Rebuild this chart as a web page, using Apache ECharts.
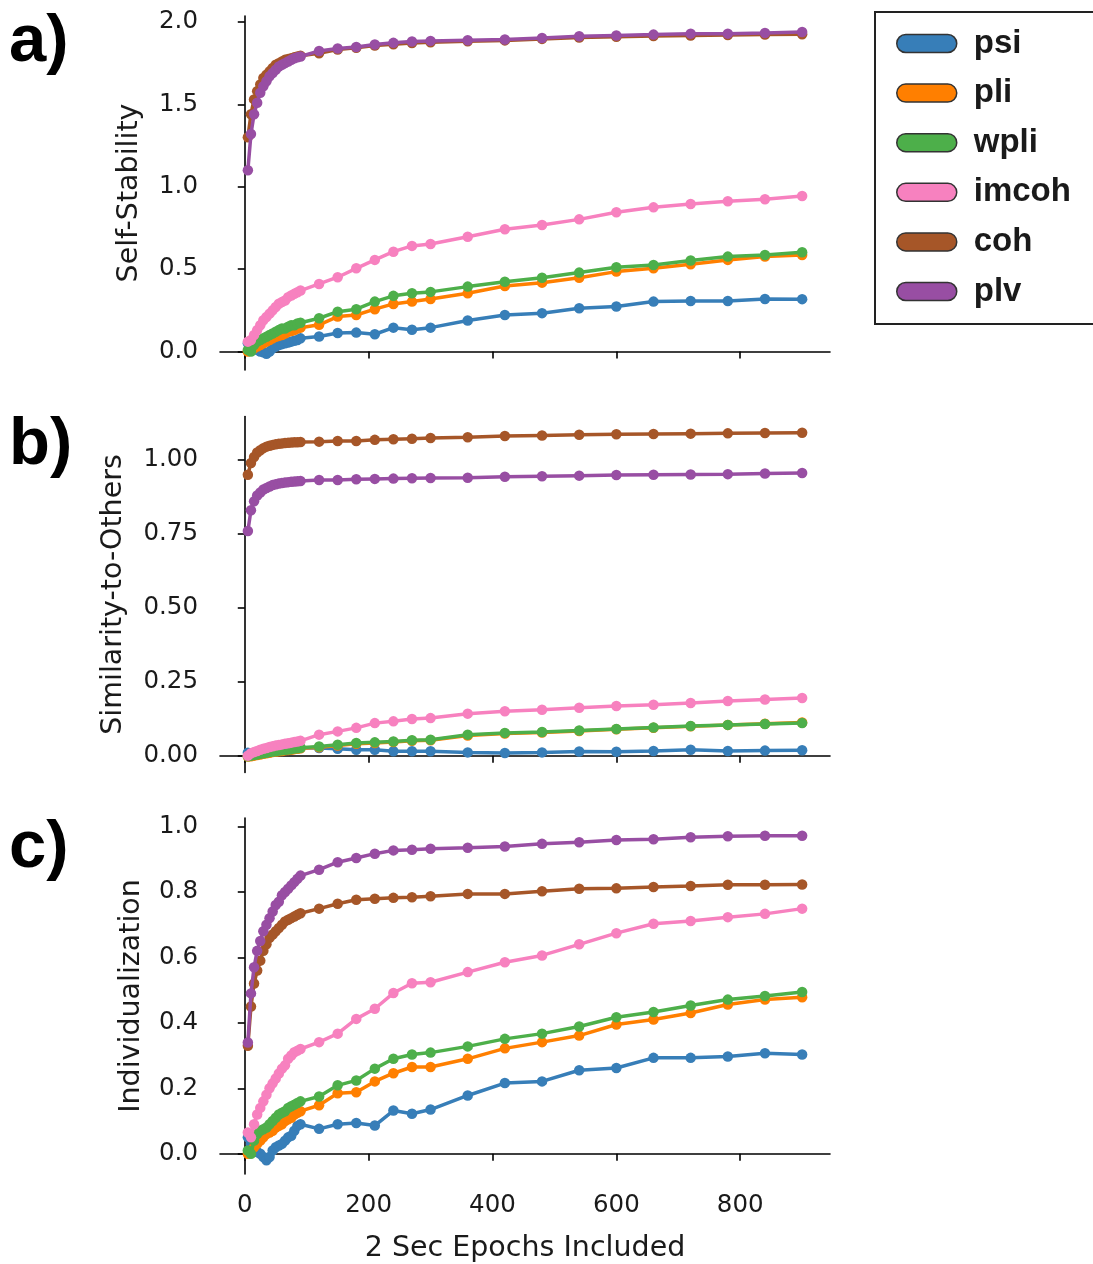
<!DOCTYPE html>
<html>
<head>
<meta charset="utf-8">
<script src="https://cdn.jsdelivr.net/npm/echarts@6/dist/echarts.min.js"></script>
<style>
html,body{margin:0;padding:0;background:#fff;}
#chart{width:1093px;height:1264px;}
</style>
</head>
<body>
<div id="chart"></div>
<script>
// ---------- DATA ----------
const epochs = [5,10,15,20,25,30,35,40,45,50,55,60,65,70,75,80,85,90,
  120,150,180,210,240,270,300,360,420,480,540,600,660,720,780,840,900];

const measures = ['psi','pli','wpli','imcoh','coh','plv'];
const colors = ['#377eb8','#ff7f00','#4daf4a','#f781bf','#a65628','#984ea3'];

// a) Self-Stability
const psiA = [0.05,0.03,0.02,0.01,0.00,-0.005,-0.014,0.00,0.02,0.03,0.04,0.045,0.05,0.055,0.06,0.065,0.07,0.08,
  0.091,0.112,0.115,0.105,0.145,0.132,0.145,0.188,0.222,0.233,0.263,0.273,0.303,0.307,0.307,0.319,0.318];
const pliA = [0.00,0.01,0.02,0.03,0.04,0.05,0.06,0.07,0.08,0.09,0.095,0.10,0.11,0.12,0.125,0.13,0.14,0.145,
  0.162,0.212,0.222,0.257,0.289,0.303,0.319,0.354,0.398,0.418,0.448,0.485,0.505,0.530,0.556,0.576,0.586];
const wpliA = [0.01,0.00,0.04,0.06,0.07,0.08,0.09,0.10,0.11,0.12,0.13,0.14,0.14,0.15,0.16,0.16,0.17,0.175,
  0.202,0.242,0.257,0.303,0.338,0.354,0.362,0.394,0.424,0.448,0.479,0.511,0.525,0.552,0.576,0.586,0.602];
const imcohA = [0.06,0.07,0.10,0.13,0.16,0.19,0.21,0.23,0.25,0.27,0.29,0.30,0.31,0.33,0.34,0.35,0.36,0.37,
  0.410,0.451,0.505,0.556,0.606,0.641,0.653,0.697,0.742,0.768,0.802,0.845,0.875,0.895,0.912,0.924,0.944];
const cohA = [1.30,1.44,1.53,1.58,1.62,1.66,1.68,1.70,1.72,1.74,1.75,1.76,1.77,1.775,1.78,1.785,1.79,1.795,
  1.810,1.832,1.843,1.857,1.864,1.872,1.877,1.883,1.888,1.897,1.905,1.910,1.915,1.918,1.921,1.924,1.925];
const plvA = [1.10,1.32,1.44,1.51,1.57,1.61,1.64,1.67,1.69,1.71,1.73,1.74,1.75,1.76,1.77,1.78,1.785,1.79,
  1.824,1.839,1.848,1.863,1.873,1.881,1.885,1.889,1.893,1.903,1.913,1.918,1.923,1.929,1.929,1.933,1.939];

// b) Similarity-to-Others
const psiB = [0.01,0.006,0.005,0.007,0.009,0.011,0.013,0.015,0.017,0.018,0.019,0.020,0.021,0.022,0.023,0.024,0.025,0.026,
  0.026,0.023,0.020,0.020,0.015,0.015,0.015,0.011,0.009,0.011,0.014,0.013,0.016,0.020,0.016,0.017,0.018];
const pliB = [-0.003,-0.002,0.0,0.002,0.004,0.006,0.008,0.010,0.012,0.013,0.015,0.016,0.018,0.019,0.020,0.022,0.023,0.025,
  0.028,0.034,0.040,0.043,0.046,0.050,0.052,0.068,0.075,0.078,0.083,0.089,0.094,0.099,0.104,0.108,0.112];
const wpliB = [-0.002,0.0,0.002,0.004,0.006,0.008,0.010,0.012,0.014,0.015,0.017,0.018,0.020,0.021,0.022,0.024,0.025,0.027,
  0.031,0.037,0.043,0.045,0.048,0.052,0.054,0.071,0.077,0.080,0.085,0.090,0.095,0.100,0.104,0.107,0.110];
const imcohB = [0.0,0.008,0.012,0.016,0.020,0.023,0.026,0.029,0.032,0.034,0.036,0.038,0.040,0.042,0.044,0.046,0.048,0.050,
  0.071,0.082,0.094,0.110,0.116,0.124,0.127,0.142,0.150,0.155,0.162,0.168,0.172,0.178,0.185,0.190,0.195];
const cohB = [0.95,0.99,1.01,1.025,1.033,1.040,1.045,1.048,1.051,1.053,1.055,1.056,1.057,1.058,1.059,1.060,1.060,1.061,
  1.062,1.064,1.064,1.068,1.070,1.072,1.074,1.077,1.081,1.083,1.085,1.087,1.088,1.089,1.090,1.091,1.092];
const plvB = [0.76,0.83,0.86,0.88,0.89,0.90,0.905,0.91,0.915,0.918,0.92,0.922,0.924,0.925,0.926,0.927,0.928,0.929,
  0.932,0.932,0.935,0.936,0.937,0.938,0.939,0.940,0.943,0.945,0.947,0.949,0.950,0.951,0.952,0.954,0.956];

// c) Individualization
const psiC = [0.05,0.03,0.015,0.005,0.0,-0.01,-0.02,-0.01,0.01,0.02,0.025,0.03,0.04,0.05,0.055,0.07,0.085,0.09,
  0.076,0.090,0.094,0.086,0.132,0.122,0.135,0.178,0.216,0.221,0.255,0.262,0.293,0.293,0.297,0.307,0.303];
const pliC = [0.0,0.01,0.02,0.03,0.04,0.05,0.06,0.065,0.07,0.08,0.085,0.09,0.10,0.105,0.11,0.12,0.125,0.13,
  0.148,0.185,0.188,0.221,0.246,0.265,0.265,0.290,0.322,0.341,0.361,0.395,0.410,0.430,0.456,0.471,0.478];
const wpliC = [0.01,0.0,0.04,0.06,0.07,0.075,0.08,0.09,0.10,0.11,0.12,0.125,0.13,0.14,0.145,0.15,0.155,0.16,
  0.175,0.209,0.224,0.260,0.290,0.303,0.309,0.328,0.351,0.367,0.389,0.417,0.433,0.453,0.471,0.482,0.494];
const imcohC = [0.065,0.05,0.09,0.12,0.14,0.16,0.18,0.20,0.215,0.23,0.245,0.26,0.27,0.29,0.30,0.31,0.315,0.32,
  0.341,0.367,0.412,0.443,0.491,0.521,0.524,0.555,0.585,0.606,0.640,0.674,0.703,0.711,0.723,0.733,0.749];
const cohC = [0.33,0.45,0.52,0.56,0.59,0.62,0.64,0.66,0.67,0.68,0.69,0.70,0.71,0.715,0.72,0.725,0.73,0.735,
  0.749,0.764,0.776,0.779,0.782,0.784,0.787,0.794,0.794,0.802,0.810,0.811,0.815,0.818,0.822,0.822,0.823];
const plvC = [0.34,0.49,0.57,0.62,0.65,0.68,0.70,0.72,0.74,0.76,0.77,0.79,0.80,0.81,0.82,0.83,0.84,0.85,
  0.868,0.891,0.904,0.917,0.927,0.929,0.932,0.935,0.939,0.947,0.952,0.959,0.961,0.967,0.970,0.972,0.972];

const xTicks = [0,200,400,600,800];
const yTicksA = [0,0.5,1.0,1.5,2.0];
const yTicksB = [0,0.25,0.5,0.75,1.0];
const yTicksC = [0,0.2,0.4,0.6,0.8,1.0];
const panelTitles = ['Self-Stability','Similarity-to-Others','Individualization'];
const panelLetters = ['a)','b)','c)'];
const xTitle = '2 Sec Epochs Included';

// ---------- CHART ----------
const panels = [
  [psiA,pliA,wpliA,imcohA,cohA,plvA],
  [psiB,pliB,wpliB,imcohB,cohB,plvB],
  [psiC,pliC,wpliC,imcohC,cohC,plvC]
];
const yTickSets = [yTicksA,yTicksB,yTicksC];
const yDecimals = [1,2,1];
const yRanges = [[-0.112,2.036],[-0.057,1.147],[-0.062,1.026]];
const gridTops = [16,416.5,818];
const gridH = [354,356,356];
const nameGaps = [76,92,74];

const FONT = 'DejaVu Sans';
const axisLine = {show:true, lineStyle:{color:'#000', width:1.6}};
const axisTickBase = {show:true, inside:false, length:7, lineStyle:{color:'#000', width:1.6}};

const grids = [], xAxes = [], yAxes = [], series = [];
for (let p = 0; p < 3; p++) {
  grids.push({left:220, width:610, top:gridTops[p], height:gridH[p], containLabel:false});
  xAxes.push({
    type:'value', gridIndex:p, min:-40, max:945,
    axisLine:axisLine,
    axisTick:Object.assign({}, axisTickBase, {customValues:xTicks}),
    axisLabel:{show:p===2, customValues:xTicks, fontFamily:FONT, fontSize:24.5, color:'#1a1a1a', margin:19},
    splitLine:{show:false},
    name: p===2 ? xTitle : '', nameLocation:'middle', nameGap:60,
    nameTextStyle:{fontFamily:FONT, fontSize:28.5, color:'#1a1a1a'}
  });
  const dec = yDecimals[p];
  yAxes.push({
    type:'value', gridIndex:p, min:yRanges[p][0], max:yRanges[p][1],
    axisLine:axisLine,
    axisTick:Object.assign({}, axisTickBase, {customValues:yTickSets[p]}),
    axisLabel:{customValues:yTickSets[p], fontFamily:FONT, fontSize:24.5, color:'#1a1a1a', margin:22,
      formatter:(v)=>Number(v).toFixed(dec)},
    splitLine:{show:false},
    name:panelTitles[p], nameLocation:'middle', nameGap:nameGaps[p], nameRotate:90,
    nameTextStyle:{fontFamily:FONT, fontSize:28.5, color:'#1a1a1a'}
  });
  for (let m = 0; m < measures.length; m++) {
    const vals = panels[p][m];
    series.push({
      name:measures[m], type:'line', xAxisIndex:p, yAxisIndex:p,
      data:epochs.map((x,k)=>[x, vals[k]]),
      symbol:'circle', symbolSize:10.5, showSymbol:true,
      color:colors[m],
      lineStyle:{width:3.5, color:colors[m]},
      itemStyle:{color:colors[m]},
      z:2+m, animation:false, clip:false
    });
  }
}

const chart = echarts.init(document.getElementById('chart'), null, {renderer:'canvas'});
chart.setOption({
  backgroundColor:'#fff',
  animation:false,
  grid:grids, xAxis:xAxes, yAxis:yAxes, series:series,
  legend:{
    data:measures, orient:'vertical', left:875, top:12,
    icon:'path://M9,0 L51,0 A9,9 0 0 1 51,18 L9,18 A9,9 0 0 1 9,0 Z',
    itemWidth:60, itemHeight:18, itemGap:16.6,
    itemStyle:{borderColor:'#333', borderWidth:1.5},
    textStyle:{fontFamily:'Liberation Sans', fontWeight:'bold', fontSize:33, color:'#1a1a1a',
      lineHeight:30, padding:[0,0,0,12]},
    borderColor:'#222', borderWidth:2, padding:[15,30,16,21],
    selectedMode:false
  },
  graphic: panelLetters.map((t,i)=>({
    type:'text', left:9, top:[9,412,815][i],
    style:{text:t, font:'bold 67px "Liberation Sans"', fill:'#000'}
  }))
});
</script>
</body>
</html>
